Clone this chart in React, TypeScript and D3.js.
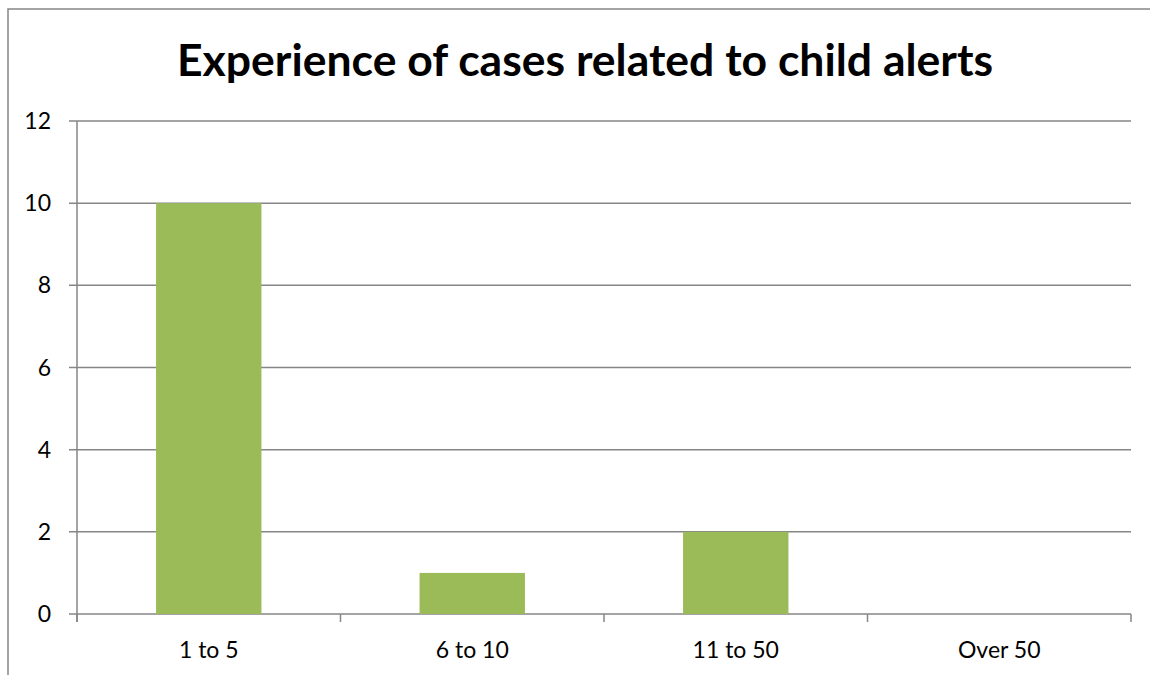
import React from "react";
import * as d3 from "d3";

const categories = ["1 to 5", "6 to 10", "11 to 50", "Over 50"];
const values = [10, 1, 2, 0];
const yTicks = [0, 2, 4, 6, 8, 10, 12];
const title = "Experience of cases related to child alerts";

export default function App() {
  const W = 1150, H = 675;
  const left = 77, right = 1131, top = 121, bottom = 614;
  const x = d3.scaleBand<string>().domain(categories).range([left, right]).paddingInner(0.6).paddingOuter(0.3);
  const y = d3.scaleLinear().domain([0, 12]).range([bottom, top]);
  const step = (right - left) / categories.length;
  const font = "Lato, 'Open Sans', sans-serif";
  const grid = "#868686";
  return (
    <svg width={W} height={H} style={{ position: "absolute", left: 0, top: 0, background: "#fff" }}>
      <rect x={8} y={9} width={W + 20} height={H + 20} fill="#fff" stroke="#868686" strokeWidth={1.5} />
      <text x={585} y={76} textAnchor="middle" fontFamily={font} fontWeight="bold" fontSize={44.5} fill="#000">
        {title}
      </text>
      {yTicks.map((t) => (
        <g key={t}>
          <line x1={69} x2={right} y1={y(t)} y2={y(t)} stroke={grid} strokeWidth={1.5} />
          <text x={51} y={y(t) + 8} textAnchor="end" fontFamily={font} fontSize={23} fill="#000">
            {t}
          </text>
        </g>
      ))}
      <line x1={left} x2={left} y1={top} y2={bottom + 8} stroke={grid} strokeWidth={1.5} />
      {d3.range(categories.length + 1).map((i) => (
        <line key={i} x1={left + i * step} x2={left + i * step} y1={bottom} y2={bottom + 8} stroke={grid} strokeWidth={1.5} />
      ))}
      {categories.map((c, i) => (
        <g key={c}>
          {values[i] > 0 && (
            <rect x={x(c)} y={y(values[i])} width={x.bandwidth()} height={y(0) - y(values[i])} fill="#9BBB59" />
          )}
          <text x={(x(c) as number) + x.bandwidth() / 2} y={658} textAnchor="middle" fontFamily={font} fontSize={23} fill="#000">
            {c}
          </text>
        </g>
      ))}
    </svg>
  );
}
